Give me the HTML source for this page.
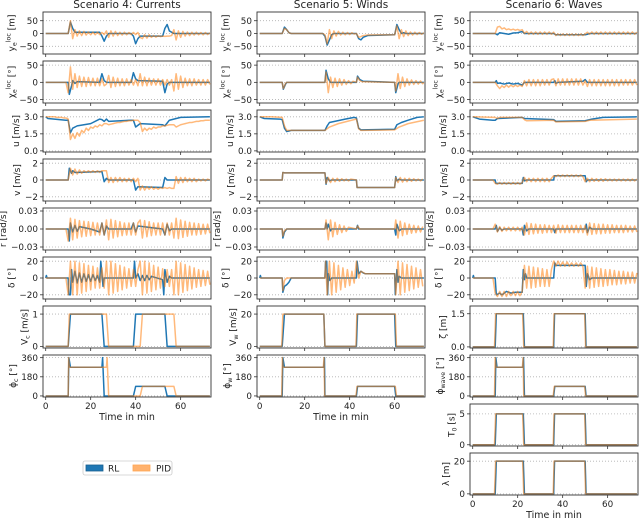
<!DOCTYPE html>
<html><head><meta charset="utf-8">
<style>
html,body{margin:0;padding:0;background:#fff;}
svg{display:block;font-family:"DejaVu Sans","Liberation Sans",sans-serif;}
</style></head>
<body>
<svg id="fig" width="640" height="524" xmlns="http://www.w3.org/2000/svg"></svg>
<script>
// ---------- data ----------
const scenarioTitles = ["Scenario 4: Currents","Scenario 5: Winds","Scenario 6: Waves"];
const xTicks = [0,20,40,60];
// flat number arrays = sampled every 1 min from t=0; pair arrays = [t,value]
const s4_ye_rl = [[0,0],[10,0],[11,45],[12,20],[13,5],[16,5],[24,5],[25,-10],[26,-30],[27,-10],[28,0],[38,0],[39,-10],[40,-40],[41,-20],[42,-10],[52,-10],[53,20],[54,35],[55,10],[57,0],[73,0]];
const s4_ye_pid = [0,0,0,0,0,0,0,0,0,0,0,50,-20,15,-10,10,-8,8,-6,6,-5,5,-5,5,-4,4,-4,10,-15,10,-10,8,-8,5,-6,5,-5,4,-4,4,-4,4,-15,-20,-5,-18,-5,-15,-8,-14,-9,-12,-10,-11,-10,-10,-8,15,-25,10,-15,8,-10,6,-8,5,-6,5,-5,4,-5,4,-4,3];
const s4_chi_rl = [[0,0],[10,0],[10.5,-35],[11.5,-10],[12,5],[13,-3],[14,2],[24,0],[25,25],[26,5],[27,0],[38,0],[39,28],[40,10],[41,5],[52,3],[53,-30],[54,-5],[55,0],[73,0]];
const s4_chi_pid = [0,0,0,0,0,0,0,0,0,0,-30,45,-20,25,-15,18,-12,15,-12,14,-10,12,-10,12,-10,10,-10,-5,20,-15,15,-12,12,-10,10,-10,10,-8,8,-8,8,-10,25,-10,15,-10,12,-8,10,-8,10,-8,8,-8,8,-8,8,-25,25,-20,18,-15,12,-10,10,-10,10,-8,8,-8,8,-8,8,-6];
const s4_u_rl = [[0,3],[1,2.85],[9,2.7],[10,2.7],[11,1.6],[12,2.0],[14,2.2],[20,2.4],[24,2.8],[25,2.75],[26,2.6],[27,2.8],[28,2.6],[38,2.7],[39,2.7],[40,2.1],[42,2.4],[52,2.3],[53,2.2],[55,2.7],[60,2.95],[73,3]];
const s4_u_pid = [3,3,3,3,3,2.95,2.95,2.95,2.9,2.9,2.8,1.0,1.5,1.1,1.6,1.3,1.8,1.6,2.0,1.8,2.1,2.0,2.2,2.1,2.3,2.2,2.4,2.4,2.3,2.35,2.4,2.45,2.5,2.5,2.55,2.6,2.6,2.65,2.65,2.7,2.7,2.7,2.5,1.7,2.0,1.8,2.0,1.9,2.1,2.0,2.1,2.1,2.2,2.2,2.25,2.3,2.3,2.3,2.1,2.2,2.3,2.35,2.4,2.45,2.5,2.5,2.55,2.6,2.6,2.65,2.65,2.7,2.7,2.7];
const s4_v_rl = [[0,0],[10,0],[10.5,1.4],[11.5,0.8],[12,1.1],[13,0.9],[24,1.0],[25,1.0],[26,-0.2],[27,0.2],[28,0],[38,0],[39,0],[40,-1.2],[41,-0.8],[52,-0.9],[53,0.3],[54,0],[73,0]];
const s4_v_pid = [0,0,0,0,0,0,0,0,0,0,0,1.4,0.6,1.3,0.7,1.2,0.8,1.1,0.9,1.1,0.9,1.1,0.9,1.1,0.9,1.1,1.1,1.1,-0.3,0.3,-0.3,0.3,-0.2,0.3,-0.2,0.2,-0.2,0.2,-0.2,0.2,-0.2,0.2,-1.2,-0.7,-1.2,-0.8,-1.1,-0.8,-1.1,-0.9,-1.1,-0.9,-1.0,-0.9,-1.0,-0.9,-1.0,-1.0,0.4,-0.4,0.3,-0.3,0.3,-0.2,0.2,-0.2,0.2,-0.2,0.1,-0.1,0.1,-0.1,0.1,0];
const s4_r_rl = [[0,0],[10,0],[10.5,-0.02],[11,0.01],[12,-0.005],[13,0.006],[14,-0.004],[15,0.004],[20,0],[24,-0.005],[25,0.01],[26,-0.01],[27,0.005],[28,0],[38,0],[39,0.01],[40,-0.005],[41,0.005],[52,0],[53,-0.01],[54,0.008],[55,-0.003],[56,0],[73,0]];
const s4_r_pid = [0,0,0,0,0,0,0,0,0,0,-0.02,0.018,-0.018,0.016,-0.015,0.014,-0.013,0.013,-0.012,0.012,-0.011,0.011,-0.01,0.01,-0.01,0.01,-0.01,0.015,-0.018,0.016,-0.015,0.014,-0.013,0.012,-0.011,0.01,-0.01,0.01,-0.01,0.01,-0.01,0.01,0.015,-0.015,0.014,-0.013,0.012,-0.011,0.01,-0.01,0.01,-0.01,0.01,-0.01,0.01,-0.01,0.01,-0.015,0.018,-0.016,0.015,-0.014,0.013,-0.012,0.011,-0.01,0.01,-0.01,0.009,-0.009,0.008,-0.008,0.008,-0.007];
const s4_d_rl = [[0,0],[0.3,3],[0.6,0],[10,0],[10.3,-20],[11,-20],[11.5,10],[12,-5],[13,8],[14,-6],[15,6],[16,-5],[17,5],[18,-4],[19,4],[20,-4],[21,4],[22,-3],[23,3],[24,-5],[24.5,20],[25,5],[25.5,-10],[26,0],[39,0],[39.5,20],[40,0],[41,5],[42,-3],[43,3],[44,-3],[45,3],[46,-2],[47,2],[52,-2],[52.5,-20],[53,10],[54,-5],[55,2],[56,0],[73,0]];
const s4_d_pid = [0,0,0,0,0,0,0,0,0,0,-20,20,-20,20,-20,18,-18,17,-16,15,-14,14,-12,12,-12,12,-12,20,-20,20,-18,17,-16,15,-14,13,-12,11,-10,10,-10,10,20,-20,20,-18,18,-16,15,-14,13,-12,11,-10,10,-10,10,-20,20,-20,18,-17,16,-15,14,-13,12,-11,10,-10,9,-9,8,-8];
const s4_env1_rl = [[0,0],[10,0],[11,1],[25,1],[26,0],[39,0],[40,1],[53,1],[54,0],[73,0]];
const s4_env1_pid = [[0,0],[10,0],[10.5,1],[27,1],[28,0],[42,0],[43,1],[57,1],[58,0],[73,0]];
const s4_env2_rl = [[0,0],[10,0],[10.3,360],[11,270],[25,270],[25.3,360],[26,0],[39,0],[40,90],[53,90],[54,0],[73,0]];
const s4_env2_pid = [[0,0],[10,0],[10.2,360],[10.5,270],[27,270],[27.3,360],[28,0],[42,0],[43,90],[57,90],[58,0],[73,0]];

const s5_ye_rl = [[0,0],[10,0],[11,25],[12,15],[13,3],[14,0],[28,0],[29,-10],[30,-45],[31,-25],[32,-5],[33,0],[43,0],[44,-20],[45,-25],[46,-15],[48,-8],[60,-5],[61,35],[62,15],[63,0],[64,3],[65,0],[73,0]];
const s5_ye_pid = [[0,0],[10,0],[11,20],[12,15],[13,3],[14,0],[28,0],[29,-5],[30,-40],[31,15],[32,-20],[33,10],[34,-10],[35,8],[36,-6],[37,5],[38,-5],[39,4],[40,-4],[41,3],[42,-2],[43,0],[44,-15],[45,-12],[46,-8],[48,-6],[60,-5],[61,30],[62,-20],[63,15],[64,-12],[65,10],[66,-8],[67,6],[68,-6],[69,5],[70,-4],[71,4],[72,-3],[73,3]];
const s5_chi_rl = [[0,0],[10,0],[10.5,-20],[11.5,-5],[12,0],[29,0],[29.5,35],[30.5,10],[31.5,0],[43,0],[43.5,18],[44.5,8],[46,3],[60,0],[60.5,-30],[61.5,-5],[62,0],[73,0]];
const s5_chi_pid = [[0,0],[10,0],[10.5,-18],[11.5,-3],[12,0],[29,0],[29.5,30],[30.5,-30],[31.5,15],[32.5,-15],[33.5,12],[34.5,-12],[35.5,10],[36.5,-8],[37.5,8],[38.5,-6],[39.5,5],[40.5,-4],[41.5,3],[43,0],[43.5,15],[44.5,5],[45.5,2],[60,0],[60.5,-25],[61.5,25],[62.5,-18],[63.5,15],[64.5,-12],[65.5,10],[66.5,-8],[67.5,7],[68.5,-6],[69.5,5],[70.5,-5],[71.5,4],[72.5,-4],[73,0]];
const s5_u_rl = [[0,3],[2,2.85],[9,2.8],[10,2.75],[11,2.0],[12,1.7],[13,1.75],[14,1.8],[29,1.8],[30,2.2],[31,2.5],[38,2.8],[42,2.95],[43,2.9],[44,2.0],[45,1.85],[60,1.9],[61,2.3],[63,2.5],[66,2.7],[70,2.95],[73,3]];
const s5_u_pid = [[0,3],[5,3],[10,2.95],[11,2.2],[12,1.8],[29,1.8],[31,2.1],[35,2.4],[40,2.65],[43,2.8],[44,1.95],[45,1.8],[60,1.85],[62,2.1],[66,2.4],[73,2.7]];
const s5_v_rl = [[0,0],[10,0],[10.3,0.9],[11,0.85],[29,0.85],[29.5,-0.5],[30,0.3],[31,-0.1],[32,0],[43,0],[43.3,-0.9],[60,-0.9],[60.5,0.4],[61,-0.1],[62,0.1],[63,0],[73,0]];
const s5_v_pid = [[0,0],[10,0],[10.3,0.9],[11,0.85],[29,0.85],[29.5,-0.4],[30.5,0.3],[31.5,-0.3],[32.5,0.2],[33.5,-0.2],[34.5,0.2],[35.5,-0.15],[36.5,0.15],[37.5,-0.1],[38.5,0.1],[39.5,-0.1],[40.5,0.1],[43,0],[43.3,-0.9],[60,-0.9],[60.5,0.3],[61.5,-0.3],[62.5,0.3],[63.5,-0.25],[64.5,0.2],[65.5,-0.2],[66.5,0.2],[67.5,-0.15],[68.5,0.15],[69.5,-0.1],[70.5,0.1],[71.5,-0.1],[72.5,0.1]];
const s5_r_rl = [[0,0],[10,0],[10.3,-0.015],[11,-0.005],[12,0],[29,0],[29.5,0.01],[30,0],[30.5,0.008],[31.5,-0.003],[32,0],[43,0],[43.5,0.006],[44,0],[60,0],[60.5,-0.01],[61,0.008],[62,-0.003],[63,0],[73,0]];
const s5_r_pid = [[0,0],[10,0],[10.3,-0.012],[11,-0.003],[12,0],[29,0],[29.5,0.015],[30.5,-0.018],[31.5,0.015],[32.5,-0.013],[33.5,0.011],[34.5,-0.009],[35.5,0.007],[36.5,-0.006],[37.5,0.005],[38.5,-0.004],[39.5,0.003],[43,0],[43.5,0.005],[44.5,0],[60,0],[60.5,0.015],[61.5,-0.015],[62.5,0.013],[63.5,-0.011],[64.5,0.01],[65.5,-0.009],[66.5,0.008],[67.5,-0.007],[68.5,0.006],[69.5,-0.006],[70.5,0.005],[71.5,-0.005],[72.5,0.004]];
const s5_d_rl = [[0,0],[0.3,3],[0.6,0],[10,0],[10.3,-17],[11,-10],[12,-8],[13,-5],[14,0],[29,0],[29.3,20],[29.8,20],[30.2,-20],[30.6,5],[31.2,-3],[32,0],[43,0],[43.3,20],[44,5],[45,8],[46,6],[47,5],[60,5],[60.3,-20],[61,10],[61.5,-5],[62,2],[63,0],[73,0]];
const s5_d_pid = [[0,0],[10,0],[10.3,-15],[11,-3],[12,0],[29,0],[29.3,20],[30,-20],[31,20],[32,-20],[33,18],[34,-17],[35,15],[36,-14],[37,12],[38,-11],[39,10],[40,-9],[41,8],[42,-6],[43,20],[44,0],[45,8],[47,5],[60,5],[60.5,-20],[61.5,20],[62.5,-20],[63.5,18],[64.5,-17],[65.5,16],[66.5,-15],[67.5,14],[68.5,-13],[69.5,12],[70.5,-11],[71.5,10],[72.5,-10]];
const s5_env1_rl = [[0,0],[10,0],[11,20],[28.5,20],[29,0],[43,0],[43.5,20],[60,20],[60.5,0],[73,0]];
const s5_env1_pid = [[0,0],[9.8,0],[10.3,20],[28.5,20],[29,0],[42.8,0],[43.2,20],[60.3,20],[60.8,0],[73,0]];
const s5_env2_rl = [[0,0],[10,0],[10.3,360],[11,270],[28.5,270],[28.8,360],[29,0],[43,0],[43.5,90],[60,90],[60.5,0],[73,0]];
const s5_env2_pid = [[0,0],[9.8,0],[10.1,360],[10.4,270],[28.3,270],[28.6,360],[28.9,0],[42.8,0],[43.3,90],[60.3,90],[60.8,0],[73,0]];

const s6_ye_rl = [[0,0],[10,0],[11,-5],[12,3],[14,0],[16,-3],[18,2],[20,3],[22,8],[23,0],[36,0],[37,-5],[50,-5],[51,-3],[52,0],[73,0]];
const s6_ye_pid = [0,0,0,0,0,0,0,0,0,0,0,25,28,18,22,15,18,14,17,13,16,12,15,0,8,-3,6,-3,6,-3,6,-3,6,-3,6,-3,5,-8,-2,-8,-2,-8,-2,-8,-2,-8,-2,-8,-2,-8,-2,5,-3,6,-3,6,-3,6,-3,6,-3,6,-3,6,-3,6,-3,6,-3,6,-3,6,-3,5];
const s6_chi_rl = [[0,0],[10,0],[10.5,5],[11,-3],[12,-2],[14,-5],[16,-2],[18,-5],[20,-3],[22,-8],[23,0],[36,0],[36.5,5],[37,-3],[38,0],[49,3],[50,8],[51,0],[73,0]];
const s6_chi_pid = [0,0,0,0,0,0,0,0,0,0,0,-10,-18,-10,-15,-8,-14,-8,-13,-8,-12,-8,-12,5,-10,8,-10,8,-10,8,-10,8,-8,8,-8,8,10,-10,10,-8,10,-8,10,-8,10,-8,10,-8,10,-8,5,-12,8,-10,8,-10,8,-10,8,-10,8,-10,8,-10,8,-10,8,-8,8,-8,8,-8,8,-8];
const s6_u_rl = [[0,3],[3,2.8],[9,2.7],[10,2.7],[11,2.85],[22,2.95],[23,2.85],[36,2.75],[37,2.6],[50,2.65],[53,2.8],[58,2.95],[73,3]];
const s6_u_pid = [[0,3],[10,2.95],[11,2.85],[12,2.95],[22,2.95],[23,2.75],[24,2.65],[36,2.7],[37,2.55],[50,2.6],[52,2.7],[73,2.8]];
const s6_v_rl = [[0,0],[10,0],[10.3,-0.4],[22,-0.4],[22.5,0.3],[23,-0.1],[24,0],[36,0],[36.3,0.5],[50,0.5],[50.5,-0.2],[51,0],[73,0]];
const s6_v_pid = [0,0,0,0,0,0,0,0,0,0,-0.4,-0.5,-0.3,-0.5,-0.3,-0.5,-0.3,-0.5,-0.3,-0.5,-0.3,-0.5,-0.3,0.3,-0.2,0.2,-0.2,0.2,-0.2,0.2,-0.2,0.2,-0.2,0.2,-0.2,0.2,0.5,0.4,0.6,0.4,0.6,0.4,0.6,0.4,0.6,0.4,0.6,0.4,0.6,0.4,-0.2,0.2,-0.2,0.2,-0.15,0.15,-0.15,0.15,-0.15,0.15,-0.1,0.1,-0.1,0.1,-0.1,0.1,-0.1,0.1,-0.1,0.1,-0.1,0.1,-0.1,0.1];
const s6_r_rl = [[0,0],[10,0],[10.5,0.006],[11,-0.004],[12,0.002],[13,-0.002],[14,0],[22,0],[22.5,-0.01],[23,0.006],[24,-0.003],[25,0],[36,0],[36.5,-0.006],[37,0],[50,0],[50.5,0.008],[51,-0.006],[52,0.003],[53,0],[73,0]];
const s6_r_pid = [0,0,0,0,0,0,0,0,0,0,0.008,-0.005,0.004,-0.004,0.003,-0.003,0.003,-0.003,0.003,-0.003,0.003,-0.003,0.003,-0.01,0.01,-0.009,0.009,-0.008,0.008,-0.007,0.007,-0.007,0.007,-0.006,0.006,-0.006,0.006,-0.007,0.007,-0.006,0.006,-0.006,0.006,-0.006,0.006,-0.006,0.006,-0.006,0.006,-0.006,0.006,-0.01,0.01,-0.009,0.009,-0.008,0.008,-0.008,0.008,-0.007,0.007,-0.007,0.007,-0.006,0.006,-0.006,0.006,-0.006,0.006,-0.005,0.005,-0.005,0.005,-0.005];
const s6_d_rl = [[0,0],[0.3,3],[0.6,0],[10,0],[10.5,-20],[12,-18],[13,-20],[15,-16],[17,-18],[19,-17],[22,-17],[22.5,10],[23,-2],[23.5,5],[24,0],[36,0],[36.5,18],[37,15],[50,15],[50.5,-10],[51,5],[52,-2],[53,0],[73,0]];
const s6_d_pid = [0,0,0,0,0,0,0,0,0,0,-18,-22,-16,-22,-16,-22,-16,-21,-16,-21,-16,-21,-16,15,-12,14,-12,13,-11,12,-10,11,-10,10,-10,10,20,14,20,14,19,14,19,14,18,14,18,14,18,14,-12,14,-12,13,-11,12,-10,11,-10,10,-9,10,-8,9,-8,8,-7,8,-7,7,-6,7,-6,6];
const s6_zeta_rl = [[0,0],[10,0],[10.5,1.5],[22.5,1.5],[23,0],[36,0],[36.4,1.5],[50,1.5],[50.4,0],[73,0]];
const s6_zeta_pid = [[0,0],[9.7,0],[10.2,1.5],[22.2,1.5],[22.7,0],[35.8,0],[36.2,1.5],[49.8,1.5],[50.2,0],[73,0]];
const s6_phi_rl = [[0,0],[10,0],[10.3,360],[10.8,270],[22.3,270],[22.6,360],[23,0],[36,0],[36.5,90],[50,90],[50.4,0],[73,0]];
const s6_phi_pid = [[0,0],[9.7,0],[10,360],[10.4,270],[22.1,270],[22.4,360],[22.7,0],[35.8,0],[36.3,90],[49.8,90],[50.2,0],[73,0]];
const s6_t0_rl = [[0,0],[10,0],[10.5,5],[22.5,5],[23,0],[36,0],[36.4,5],[50,5],[50.4,0],[73,0]];
const s6_t0_pid = [[0,0],[9.7,0],[10.2,5],[22.2,5],[22.7,0],[35.8,0],[36.2,5],[49.8,5],[50.2,0],[73,0]];
const s6_lam_rl = [[0,0],[10,0],[10.5,20],[22.5,20],[23,0],[36,0],[36.4,20],[50,20],[50.4,0],[73,0]];
const s6_lam_pid = [[0,0],[9.7,0],[10.2,20],[22.2,20],[22.7,0],[35.8,0],[36.2,20],[49.8,20],[50.2,0],[73,0]];

// tick label arrays
const ticksYe = [50,0,-50], ticksChi = [50,0,-50], ticksU = [3.0,1.5,0.0], ticksV = [2,0,-2],
      ticksR = [0.03,0,-0.03], ticksD = [20,0,-20], ticksVc = [1,0], ticksVw = [20,0], ticksZeta = [1.5,0.0],
      ticksPhi = [360,180,0], ticksT0 = [5,0], ticksLam = [20,0];

// ---------- layout ----------
const NS = "http://www.w3.org/2000/svg";
const svg = document.getElementById('fig');
const colLeft = [43,257,470], W = 168, H = 42, X0 = -1.2, X1 = 73.5;
const rowTop = i => 12 + 49*i;
const BLUE = "#1f77b4", ORANGE = "#ff7f0e";
const TFS = 8.8;
function mk(tag, attrs, parent){ const e=document.createElementNS(NS,tag); for(const k in attrs) e.setAttribute(k,attrs[k]); (parent||svg).appendChild(e); return e; }
function fmt(v, dec){ const s = v.toFixed(dec); return s.replace('-','\u2212'); }
function toPts(arr){ return (typeof arr[0]==='number') ? arr.map((v,i)=>[i,v]) : arr; }

function panel(col,row,o){
  const L = colLeft[col], T = rowTop(row);
  const xs = t => L + (t - X0)/(X1-X0)*W;
  const ys = v => T + H - (v - o.ymin)/(o.ymax-o.ymin)*H;
  const g = mk('g',{});
  
  
  o.ticks.forEach(tv=>{
    const gl = mk('line',{x1:L,x2:L+W,y1:ys(tv),y2:ys(tv),stroke:'#b0b0b0','stroke-width':0.8,'stroke-dasharray':'1,2'},g);
    
    
  });
  const clipId = 'c'+col+'_'+row;
  const cp = mk('clipPath',{id:clipId},g); mk('rect',{x:L,y:T,width:W,height:H},cp);
  [[o.rl,BLUE,1,'rl-line'],[o.pid,ORANGE,0.55,'pid-line']].forEach(([arr,c,op,nm])=>{
    const d = toPts(arr).map((p,i)=>(i?'L':'M')+xs(p[0]).toFixed(2)+' '+ys(p[1]).toFixed(2)).join(' ');
    const p = mk('path',{d:d,fill:'none',stroke:c,'stroke-width':1.5,'stroke-opacity':op,'clip-path':'url(#'+clipId+')','stroke-linejoin':'round'},g);
    
    
  });
  const fr = mk('rect',{x:L,y:T,width:W,height:H,fill:'none',stroke:'#333','stroke-width':0.9},g);
  
  
  let maxW = 0;
  o.ticks.forEach(tv=>{
    mk('line',{x1:L-3,x2:L,y1:ys(tv),y2:ys(tv),stroke:'#333','stroke-width':0.8},g);
    const t = mk('text',{x:L-5,y:ys(tv)+3.2,'font-size':TFS,'text-anchor':'end',fill:'#222'},g);
    t.textContent = fmt(tv,o.dec||0);
    
    
    maxW = Math.max(maxW, t.getComputedTextLength());
  });
  xTicks.forEach(tv=>{
    mk('line',{x1:xs(tv),x2:xs(tv),y1:T+H,y2:T+H+3,stroke:'#333','stroke-width':0.8},g);
    if(o.xlab){
      const t = mk('text',{x:xs(tv),y:T+H+12,'font-size':TFS,'text-anchor':'middle',fill:'#222'},g);
      t.textContent = tv;
      
      
    }
  });
  if(o.xlab){
    const t = mk('text',{x:L+W/2,y:T+H+23,'font-size':9.5,'text-anchor':'middle',fill:'#222'},g);
    t.textContent = 'Time in min';
    
    
  }
  const lx = L - 5 - maxW - 5;
  const yl = mk('text',{transform:'translate('+lx+','+(T+H/2)+') rotate(-90)','font-size':9,'text-anchor':'middle',fill:'#222'},g);
  
  
  o.label.forEach(part=>{
    const ts = mk('tspan',{},yl);
    if(part[1]==='sub'){ ts.setAttribute('font-size',6.3); ts.setAttribute('dy',2); }
    else if(part[1]==='sup'){ ts.setAttribute('font-size',6.3); ts.setAttribute('dy',-6); }
    else if(part[1]==='base'){ ts.setAttribute('dy',part[2]||0); }
    ts.textContent = part[0];
  });
}

const lbl = {
  ye:[['y','base'],['e','sub'],['loc','sup'],[' [m]','base',4]],
  chi:[['\u03c7','base'],['e','sub'],['loc','sup'],[' [\u00b0]','base',4]],
  u:[['u [m/s]','base']], v:[['v [m/s]','base']], r:[['r [rad/s]','base']], d:[['\u03b4 [\u00b0]','base']]
};
const scen = [
  {ye:[s4_ye_rl,s4_ye_pid],chi:[s4_chi_rl,s4_chi_pid],u:[s4_u_rl,s4_u_pid],v:[s4_v_rl,s4_v_pid],r:[s4_r_rl,s4_r_pid],d:[s4_d_rl,s4_d_pid]},
  {ye:[s5_ye_rl,s5_ye_pid],chi:[s5_chi_rl,s5_chi_pid],u:[s5_u_rl,s5_u_pid],v:[s5_v_rl,s5_v_pid],r:[s5_r_rl,s5_r_pid],d:[s5_d_rl,s5_d_pid]},
  {ye:[s6_ye_rl,s6_ye_pid],chi:[s6_chi_rl,s6_chi_pid],u:[s6_u_rl,s6_u_pid],v:[s6_v_rl,s6_v_pid],r:[s6_r_rl,s6_r_pid],d:[s6_d_rl,s6_d_pid]}
];
const shortNames = ['currents','winds','waves'];
scen.forEach((s,c)=>{
  const tt = mk('text',{x:colLeft[c]+W/2,y:8,'font-size':10.5,'text-anchor':'middle',fill:'#222'});
  tt.textContent = scenarioTitles[c];
  
  
  const n = shortNames[c];
  panel(c,0,{name:n+'-ye',ymin:-80,ymax:84,ticks:ticksYe,rl:s.ye[0],pid:s.ye[1],label:lbl.ye});
  panel(c,1,{name:n+'-chi',ymin:-60,ymax:62,ticks:ticksChi,rl:s.chi[0],pid:s.chi[1],label:lbl.chi});
  panel(c,2,{name:n+'-u',ymin:-0.1,ymax:3.6,ticks:ticksU,dec:1,rl:s.u[0],pid:s.u[1],label:lbl.u});
  panel(c,3,{name:n+'-v',ymin:-2.5,ymax:2.5,ticks:ticksV,rl:s.v[0],pid:s.v[1],label:lbl.v});
  panel(c,4,{name:n+'-r',ymin:-0.035,ymax:0.035,ticks:ticksR,dec:2,rl:s.r[0],pid:s.r[1],label:lbl.r});
  panel(c,5,{name:n+'-delta',ymin:-25,ymax:25,ticks:ticksD,rl:s.d[0],pid:s.d[1],label:lbl.d});
});
panel(0,6,{name:'currents-vc',ymin:-0.05,ymax:1.25,ticks:ticksVc,rl:s4_env1_rl,pid:s4_env1_pid,label:[['V','base'],['c','sub'],[' [m/s]','base',-2]]});
panel(0,7,{name:'currents-phic',ymin:-10,ymax:385,ticks:ticksPhi,rl:s4_env2_rl,pid:s4_env2_pid,xlab:true,label:[['\u03d5','base'],['c','sub'],[' [\u00b0]','base',-2]]});
panel(1,6,{name:'winds-vw',ymin:-1,ymax:25,ticks:ticksVw,rl:s5_env1_rl,pid:s5_env1_pid,label:[['V','base'],['w','sub'],[' [m/s]','base',-2]]});
panel(1,7,{name:'winds-phiw',ymin:-10,ymax:385,ticks:ticksPhi,rl:s5_env2_rl,pid:s5_env2_pid,xlab:true,label:[['\u03d5','base'],['w','sub'],[' [\u00b0]','base',-2]]});
panel(2,6,{name:'waves-zeta',ymin:-0.05,ymax:1.85,ticks:ticksZeta,dec:1,rl:s6_zeta_rl,pid:s6_zeta_pid,label:[['\u03b6 [m]','base']]});
panel(2,7,{name:'waves-phiwave',ymin:-10,ymax:385,ticks:ticksPhi,rl:s6_phi_rl,pid:s6_phi_pid,label:[['\u03d5','base'],['wave','sub'],[' [\u00b0]','base',-2]]});
panel(2,8,{name:'waves-t0',ymin:-0.2,ymax:6.6,ticks:ticksT0,rl:s6_t0_rl,pid:s6_t0_pid,label:[['T','base'],['0','sub'],[' [s]','base',-2]]});
panel(2,9,{name:'waves-lambda',ymin:-0.7,ymax:25,ticks:ticksLam,rl:s6_lam_rl,pid:s6_lam_pid,xlab:true,label:[['\u03bb [m]','base']]});

// legend
const lg = mk('g',{});


mk('rect',{x:83,y:461,width:89,height:14,rx:2,fill:'#fff',stroke:'#ccc','stroke-width':0.8},lg);
const p1 = mk('rect',{x:86,y:465,width:17,height:6,fill:BLUE,stroke:'#1a5f8f','stroke-width':0.8},lg);


const t1 = mk('text',{x:108,y:471.5,'font-size':9,fill:'#222'},lg); t1.textContent='RL';
const p2 = mk('rect',{x:133,y:465,width:17,height:6,fill:'#ffb26e',stroke:'#ffa552','stroke-width':0.8},lg);


const t2 = mk('text',{x:156,y:471.5,'font-size':9,fill:'#222'},lg); t2.textContent='PID';
</script>
</body></html>
